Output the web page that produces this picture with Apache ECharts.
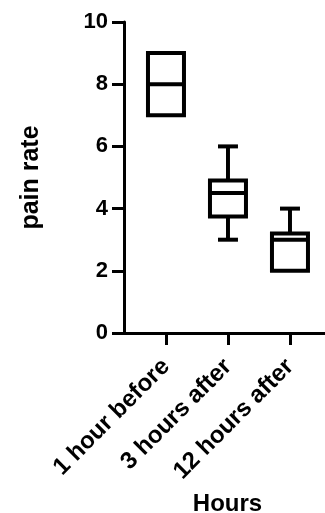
<!DOCTYPE html>
<html>
<head>
<meta charset="utf-8">
<script src="https://cdn.jsdelivr.net/npm/echarts@6/dist/echarts.min.js"></script>
<style>
  html, body { margin: 0; padding: 0; background: #fff; }
  #chart { width: 325px; height: 513px; }
</style>
</head>
<body>
<div id="chart"></div>
<script>
(function () {
  'use strict';
  var categories = ['1 hour before', '3 hours after', '12 hours after'];
  // min, Q1, median, Q3, max
  var mins = [7, 3, 2];
  var q1s = [7, 3.75, 2];
  var medians = [8, 4.5, 3];
  var q3s = [9, 4.9, 3.2];
  var maxs = [9, 6, 4];
  var yTicks = [0, 2, 4, 6, 8, 10];

  var font = 'Liberation Sans, Arial, sans-serif';
  var data = categories.map(function (c, i) {
    return [i, mins[i], q1s[i], medians[i], q3s[i], maxs[i]];
  });

  var myChart = echarts.init(document.getElementById('chart'));
  var option = {
    animation: false,
    grid: { left: 124, right: 0, top: 22, bottom: 180, containLabel: false, outerBoundsMode: 'none' },
    xAxis: {
      type: 'value',
      min: -0.677,
      max: 2.565,
      name: 'Hours',
      nameLocation: 'middle',
      nameGap: 159,
      nameTextStyle: { color: '#000', fontSize: 24, fontWeight: 'bold', fontFamily: font, padding: [0, 0, 0, 6] },
      splitLine: { show: false },
      axisLine: { onZero: false, lineStyle: { color: '#000', width: 3 } },
      axisTick: { customValues: [0, 1, 2], length: 12, lineStyle: { color: '#000', width: 3 } },
      axisLabel: {
        customValues: [0, 1, 2],
        rotate: 45,
        margin: 30,
        color: '#000',
        fontSize: 24,
        fontWeight: 'bold',
        fontFamily: font,
        formatter: function (v) { return categories[Math.round(v)]; }
      }
    },
    yAxis: {
      type: 'value',
      min: yTicks[0],
      max: yTicks[yTicks.length - 1],
      interval: 2,
      name: 'pain rate',
      nameLocation: 'middle',
      nameGap: 80,
      nameTextStyle: { color: '#000', fontSize: 25, fontWeight: 'bold', fontFamily: font },
      splitLine: { show: false },
      axisLine: { show: true, onZero: false, lineStyle: { color: '#000', width: 3 } },
      axisTick: { show: true, length: 12, lineStyle: { color: '#000', width: 3 } },
      axisLabel: { margin: 16, color: '#000', fontSize: 22, fontWeight: 'bold', fontFamily: font }
    },
    series: [{
      type: 'custom',
      data: data,
      renderItem: function (params, api) {
        var x = api.value(0);
        var lo = api.coord([x, api.value(1)]);
        var q1 = api.coord([x, api.value(2)]);
        var med = api.coord([x, api.value(3)]);
        var q3 = api.coord([x, api.value(4)]);
        var hi = api.coord([x, api.value(5)]);
        var cx = q1[0];
        var half = 18, cap = 10;
        var st = { stroke: '#000', lineWidth: 4, fill: 'none' };
        var children = [];
        if (hi[1] < q3[1]) {
          children.push({ type: 'line', shape: { x1: cx, y1: q3[1], x2: cx, y2: hi[1] }, style: st });
          children.push({ type: 'line', shape: { x1: cx - cap, y1: hi[1], x2: cx + cap, y2: hi[1] }, style: st });
        }
        if (lo[1] > q1[1]) {
          children.push({ type: 'line', shape: { x1: cx, y1: q1[1], x2: cx, y2: lo[1] }, style: st });
          children.push({ type: 'line', shape: { x1: cx - cap, y1: lo[1], x2: cx + cap, y2: lo[1] }, style: st });
        }
        children.push({ type: 'rect', shape: { x: cx - half, y: q3[1], width: half * 2, height: q1[1] - q3[1] }, style: { stroke: '#000', lineWidth: 4, fill: '#fff' } });
        children.push({ type: 'line', shape: { x1: cx - half, y1: med[1], x2: cx + half, y2: med[1] }, style: st });
        return { type: 'group', children: children };
      }
    }]
  };
  myChart.setOption(option);
  window.addEventListener('resize', function () {
    myChart.resize();
  });
})();
</script>
</body>
</html>
